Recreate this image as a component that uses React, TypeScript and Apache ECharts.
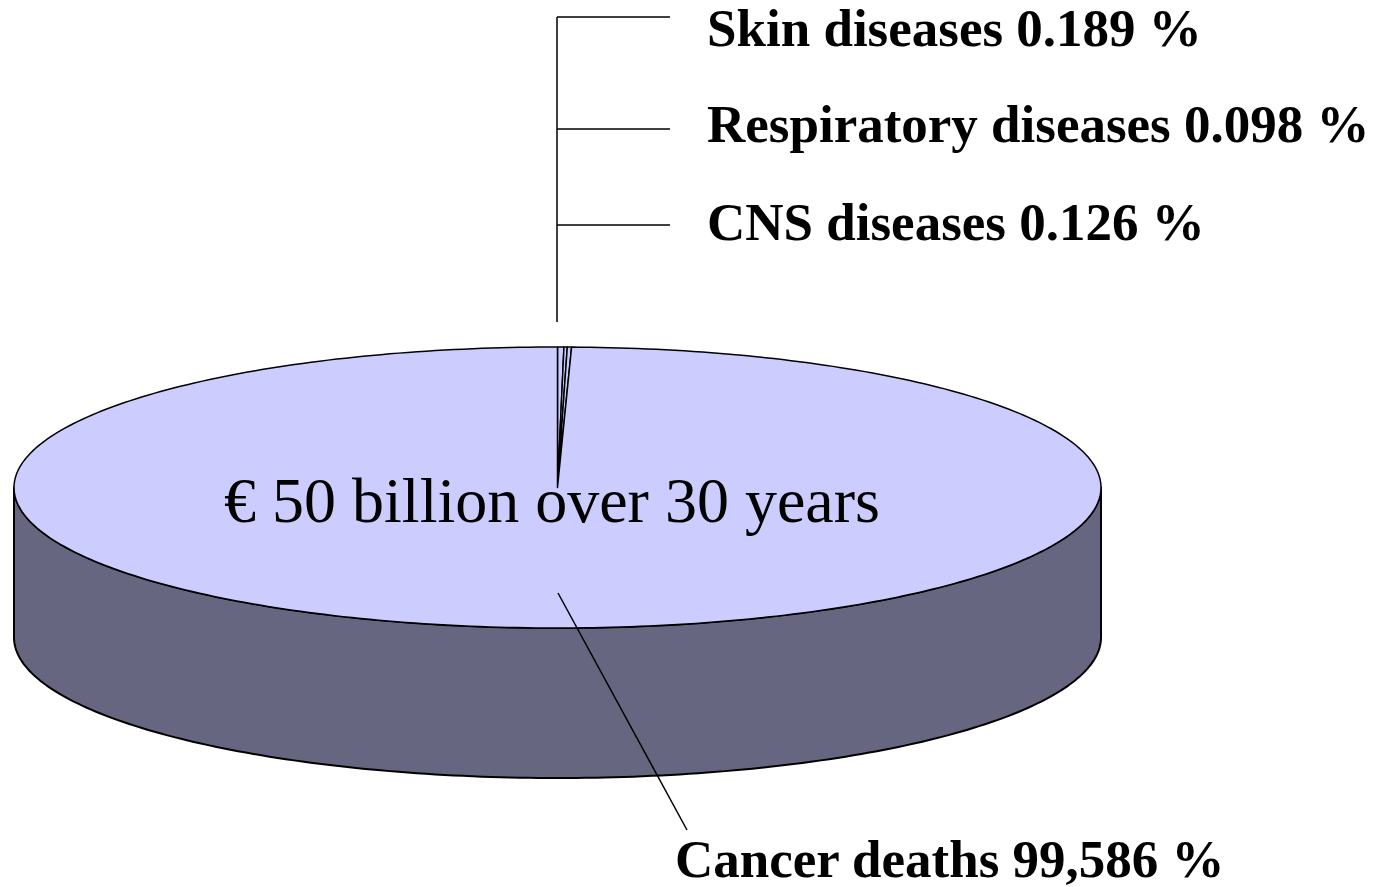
import React, { useEffect, useRef } from "react";
import * as echarts from "echarts";

const categories = ["Skin diseases", "Respiratory diseases", "CNS diseases", "Cancer deaths"];
const values = [0.189, 0.098, 0.126, 99.586];
const valueLabels = ["0.189 %", "0.098 %", "0.126 %", "99,586 %"];
const centerTitle = "€ 50 billion over 30 years";

const TOP_COLOR = "#CCCCFF";
const SIDE_COLOR = "#666680";

export default function App() {
  const ref = useRef<HTMLDivElement>(null);
  useEffect(() => {
    if (!ref.current) return;
    const chart = echarts.init(ref.current, null, { renderer: "svg" });
    const cx = 557.5, cy = 487.5, rx = 543.5, ry = 140.5, depth = 150;
    const total = values.reduce((a, b) => a + b, 0);
    const starts: number[] = [];
    let acc = 0;
    values.forEach((v) => { starts.push(acc); acc += v; });
    const pt = (deg: number, dy = 0) => {
      const r = (deg * Math.PI) / 180;
      return [cx + rx * Math.sin(r), cy - ry * Math.cos(r) + dy];
    };
    const arc = (a0: number, a1: number, dy = 0) => {
      const pts: number[][] = [];
      const n = Math.max(2, Math.ceil(Math.abs(a1 - a0) / 1));
      for (let i = 0; i <= n; i++) pts.push(pt(a0 + ((a1 - a0) * i) / n, dy));
      return pts;
    };
    const font = '"Liberation Serif", "Times New Roman", serif';
    const labelY = [28, 124, 222];
    const lineYs = [17, 129, 225];
    const graphics: any[] = [
      { type: "line", shape: { x1: 557, y1: 17, x2: 557, y2: 322 }, style: { stroke: "#000", lineWidth: 1.5 } },
    ];
    labelY.forEach((y, i) => {
      const lineY = lineYs[i];
      graphics.push({ type: "line", shape: { x1: 557, y1: lineY, x2: 670, y2: lineY }, style: { stroke: "#000", lineWidth: 1.5 } });
      graphics.push({
        type: "text", x: 707, y,
        style: { text: categories[i] + " " + valueLabels[i], font: `bold 53px ${font}`, fill: "#000", textAlign: "left", textVerticalAlign: "middle" },
      });
    });
    graphics.push({ type: "line", shape: { x1: 558, y1: 593, x2: 687, y2: 830 }, style: { stroke: "#000", lineWidth: 1.5 }, z: 100 });
    graphics.push({
      type: "text", x: 675, y: 859,
      style: { text: categories[3] + " " + valueLabels[3], font: `bold 53px ${font}`, fill: "#000", textAlign: "left", textVerticalAlign: "middle" },
    });
    graphics.push({
      type: "text", x: 552, y: 500, z: 100,
      style: { text: centerTitle, font: `64px ${font}`, fill: "#000", textAlign: "center", textVerticalAlign: "middle" },
    });

    chart.setOption({
      animation: false,
      backgroundColor: "#fff",
      series: [
        {
          type: "custom",
          coordinateSystem: "none",
          data: values.map((v, i) => ({ name: categories[i], value: v })),
          renderItem: (params: any, api: any) => {
            const i = params.dataIndex;
            const v = api.value(0);
            const a0 = (starts[i] / total) * 360;
            const a1 = a0 + (v / total) * 360;
            const children: any[] = [];
            const s = Math.max(a0, 90), e = Math.min(a1, 270);
            if (e > s) {
              const topEdge = arc(s, e);
              const botEdge = arc(e, s, depth);
              children.push({
                type: "polygon",
                shape: { points: topEdge.concat(botEdge) },
                style: { fill: SIDE_COLOR, stroke: "#000", lineWidth: 2, lineJoin: "round" },
              });
            }
            const top = [[cx, cy]].concat(arc(a0, a1));
            children.push({
              type: "polygon",
              shape: { points: top },
              style: { fill: TOP_COLOR, stroke: "#000", lineWidth: 1.5, lineJoin: "round" },
            });
            return { type: "group", children };
          },
        },
      ],
      graphic: graphics,
    });
    return () => chart.dispose();
  }, []);
  return <div ref={ref} style={{ position: "fixed", left: 0, top: 0, width: 1387, height: 887 }} />;
}
